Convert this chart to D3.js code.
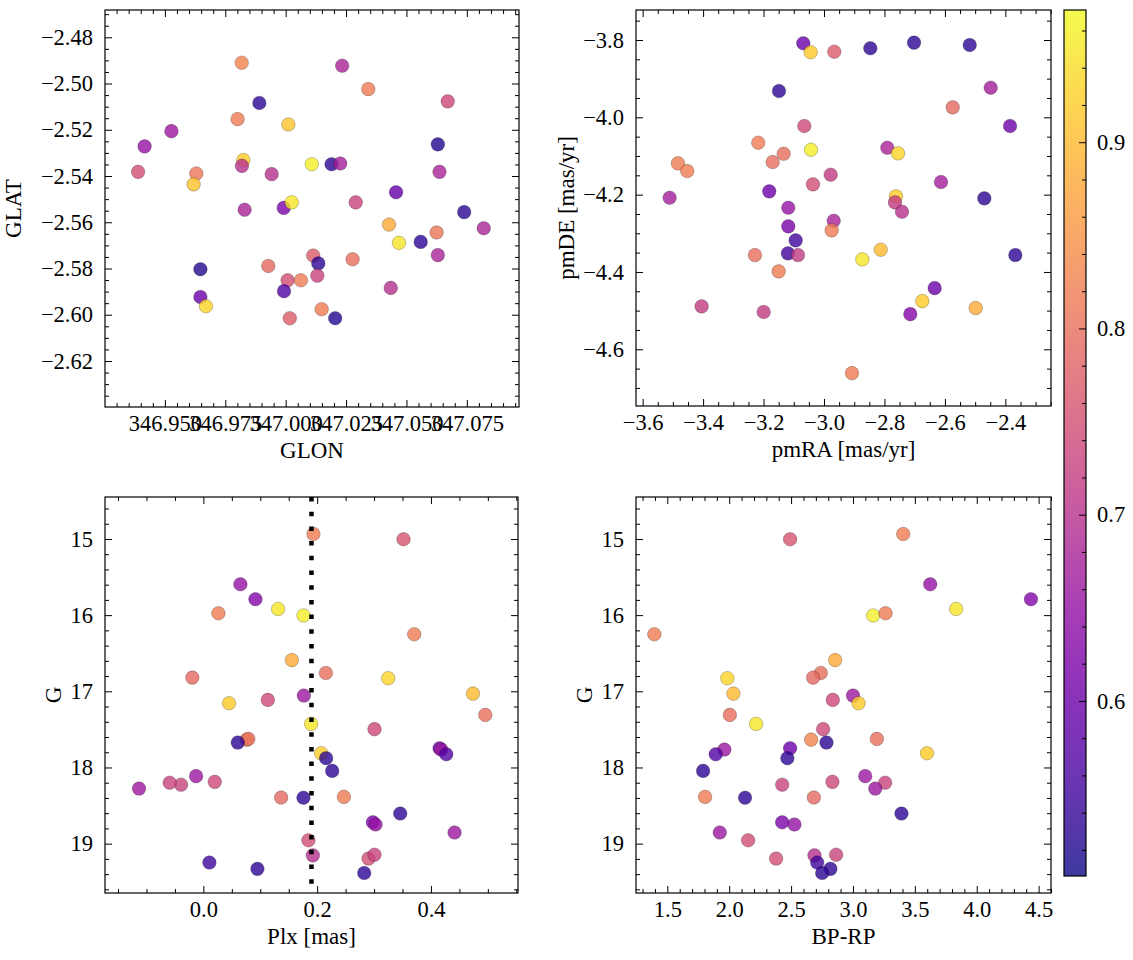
<!DOCTYPE html>
<html><head><meta charset="utf-8">
<script src="https://cdn.jsdelivr.net/npm/d3@7"></script>
<style>
body{margin:0;background:#fff}
</style></head><body>
<svg id="c" width="1133" height="960"></svg>
<script>
// ---------- DATA ----------
// Panel 1: sky position
const glon = [346.9818,347.0234,347.0342,347.0671,346.9891,346.9801,347.0011,346.9527,346.9416,347.0630,
  346.9389,346.9630,346.9619,346.9825,346.9819,346.9942,347.0108,347.0190,347.0226,347.0637,
  347.0457,346.9830,346.9992,347.0025,347.0290,347.0739,347.0428,347.0820,347.0469,347.0559,
  347.0625,347.0630,347.0114,347.0135,347.0277,346.9928,346.9647,347.0008,347.0063,347.0131,
  346.9993,347.0435,346.9647,346.9670,347.0149,347.0017,347.0205];
const glat = [-2.4910,-2.4923,-2.5024,-2.5077,-2.5084,-2.5154,-2.5177,-2.5206,-2.5272,-2.5263,
  -2.5382,-2.5389,-2.5436,-2.5331,-2.5356,-2.5392,-2.5349,-2.5349,-2.5346,-2.5382,
  -2.5470,-2.5546,-2.5538,-2.5514,-2.5514,-2.5556,-2.5610,-2.5626,-2.5689,-2.5685,
  -2.5644,-2.5742,-2.5744,-2.5778,-2.5760,-2.5789,-2.5803,-2.5851,-2.5851,-2.5831,
  -2.5898,-2.5884,-2.5923,-2.5963,-2.5976,-2.6015,-2.6015];
const probPos = [0.83,0.68,0.82,0.74,0.53,0.82,0.91,0.66,0.65,0.52,
  0.75,0.81,0.91,0.92,0.70,0.70,0.96,0.53,0.67,0.68,
  0.59,0.68,0.62,0.95,0.73,0.53,0.88,0.68,0.95,0.53,
  0.81,0.68,0.77,0.53,0.80,0.79,0.52,0.75,0.82,0.73,
  0.57,0.70,0.60,0.93,0.82,0.77,0.52];

// Panel 2: proper motions
const pmra = [-3.0686,-3.0441,-2.9660,-2.8468,-2.7022,-2.5179,-3.1490,-2.4485,-2.5742,-2.3845,
  -3.0652,-3.2175,-3.0431,-3.1334,-3.1698,-3.4832,-3.4524,-2.7906,-2.7552,-2.9779,
  -3.0365,-2.6129,-3.1811,-3.5107,-2.7618,-2.4696,-2.7651,-2.7419,-3.1182,-2.9680,
  -3.1182,-2.9746,-3.0937,-3.1192,-3.0861,-3.2284,-3.1500,-2.8733,-2.8124,-2.3670,
  -2.6338,-2.6748,-2.7145,-2.4981,-3.4048,-3.1996,-2.9074];
const pmde = [-3.8085,-3.8318,-3.8303,-3.8215,-3.8069,-3.8129,-3.9320,-3.9234,-3.9742,-4.0225,
  -4.0225,-4.0657,-4.0838,-4.0942,-4.1157,-4.1190,-4.1390,-4.0787,-4.0932,-4.1485,
  -4.1734,-4.1674,-4.1915,-4.2080,-4.2044,-4.2096,-4.2199,-4.2443,-4.2339,-4.2675,
  -4.2820,-4.2924,-4.3183,-4.3519,-4.3563,-4.3563,-4.3985,-4.3675,-4.3425,-4.3563,
  -4.4417,-4.4753,-4.5090,-4.4934,-4.4890,-4.5037,-4.6616];
const probPM = [0.60,0.92,0.77,0.53,0.53,0.53,0.53,0.67,0.79,0.60,
  0.74,0.82,0.96,0.80,0.80,0.82,0.82,0.68,0.93,0.72,
  0.75,0.67,0.60,0.67,0.92,0.53,0.72,0.70,0.65,0.68,
  0.62,0.82,0.55,0.55,0.72,0.80,0.82,0.95,0.90,0.53,
  0.60,0.92,0.63,0.88,0.72,0.72,0.82];

// Panels 3 & 4: parallax, magnitude, colour
const plx = [0.1935,0.3518,0.0651,0.0915,0.1759,0.0264,0.1314,0.3706,0.1555,0.2153,
  -0.0194,0.3249,0.4739,0.1766,0.0452,0.1133,0.4955,0.1894,0.3008,0.0763,
  0.0790,0.0605,0.2070,0.4152,0.2158,0.4180,0.4269,0.2264,-0.0392,0.0200,
  -0.0128,-0.0592,-0.1131,0.2470,0.1759,0.1367,0.3460,0.2980,0.3026,0.4415,
  0.1847,0.2903,0.1924,0.3008,0.0106,0.0950,0.2827];
const gmag = [14.935,15.004,15.595,15.791,16.004,15.975,15.919,16.251,16.590,16.759,
  16.820,16.828,17.030,17.056,17.156,17.113,17.310,17.428,17.497,17.635,
  17.625,17.673,17.813,17.747,17.878,17.765,17.826,18.045,18.226,18.189,
  18.114,18.200,18.277,18.386,18.397,18.395,18.605,18.720,18.749,18.854,
  18.956,19.196,19.154,19.145,19.248,19.331,19.386];
const bprp = [3.406,2.492,3.624,4.438,3.163,3.263,3.834,1.395,2.856,2.740,
  2.678,1.985,2.034,3.000,3.045,2.837,2.005,2.217,2.759,2.662,
  3.193,2.786,3.598,2.492,2.470,1.961,1.891,1.789,2.428,2.834,
  3.099,3.260,3.180,1.805,2.128,2.684,3.392,2.428,2.527,1.924,
  2.153,2.379,2.689,2.864,2.711,2.818,2.751];
const probPhot = [0.82,0.76,0.65,0.63,0.96,0.82,0.95,0.82,0.88,0.80,
  0.79,0.93,0.90,0.66,0.92,0.74,0.80,0.95,0.74,0.83,
  0.80,0.53,0.92,0.60,0.53,0.66,0.57,0.53,0.73,0.74,
  0.66,0.73,0.66,0.82,0.53,0.79,0.53,0.62,0.65,0.66,
  0.75,0.75,0.70,0.73,0.55,0.53,0.53];
const plxRef = 0.19;

// Tick values
const glonTicks = [346.950,346.975,347.000,347.025,347.050,347.075];
const glatTicks = [-2.48,-2.50,-2.52,-2.54,-2.56,-2.58,-2.60,-2.62];
const pmraTicks = [-3.6,-3.4,-3.2,-3.0,-2.8,-2.6,-2.4];
const pmdeTicks = [-3.8,-4.0,-4.2,-4.4,-4.6];
const plxTicks = [0.0,0.2,0.4];
const gTicks = [15,16,17,18,19];
const bprpTicks = [1.5,2.0,2.5,3.0,3.5,4.0,4.5];
const cbTicks = [0.6,0.7,0.8,0.9];

// ---------- DRAW ----------
const FONT = "'Liberation Serif', 'DejaVu Serif', serif";
const svg = d3.select("#c");
const FS = 22.5, LFS = 23;
const pDom = [0.506, 0.971];
const color = d3.scaleSequential(d3.interpolatePlasma).domain(pDom);

function minorRange(dom, step){
  const lo = Math.min(dom[0],dom[1]), hi = Math.max(dom[0],dom[1]);
  const out = [];
  for(let k=Math.ceil(lo/step - 1e-9); k*step <= hi + 1e-9; k++) out.push(+(k*step).toFixed(6));
  return out;
}
function styleText(sel, fs){ sel.attr("font-size",fs||FS).attr("font-family",FONT).attr("fill","#000"); }

function panel(cfg){
  const {x0,y0,w,h,xd,yd,xt,yt,xstep,ystep,xfmt,yfmt,xs,ys,ps,xlab,ylab,ylabX} = cfg;
  const g = svg.append("g").attr("transform",`translate(${x0},${y0})`);
  const X = d3.scaleLinear().domain(xd).range([0,w]);
  const Y = d3.scaleLinear().domain(yd).range([h,0]);
  const xmin = minorRange(xd,xstep).filter(v=>!xt.some(t=>Math.abs(t-v)<1e-6));
  const ymin = minorRange(yd,ystep).filter(v=>!yt.some(t=>Math.abs(t-v)<1e-6));

  const idx = d3.range(xs.length);
  g.append("g").selectAll("circle").data(idx).join("circle")
    .attr("cx",i=>X(xs[i])).attr("cy",i=>Y(ys[i])).attr("r",6.8)
    .attr("fill",i=>color(ps[i])).attr("fill-opacity",0.8)
    .attr("stroke","#000").attr("stroke-opacity",0.45).attr("stroke-width",0.5);
  if(cfg.vline!==undefined){
    g.append("line").attr("x1",X(cfg.vline)).attr("x2",X(cfg.vline)).attr("y1",0).attr("y2",h)
      .attr("stroke","#000").attr("stroke-width",4.5).attr("stroke-dasharray","4.5,10.2");
  }
  const axes = [
    [d3.axisBottom(X).tickValues(xt).tickSize(-7).tickPadding(8.5).tickFormat(xfmt), `translate(0,${h})`],
    [d3.axisBottom(X).tickValues(xmin).tickSize(-4).tickFormat(""), `translate(0,${h})`],
    [d3.axisTop(X).tickValues(xt).tickSize(-7).tickFormat(""), `translate(0,0)`],
    [d3.axisTop(X).tickValues(xmin).tickSize(-4).tickFormat(""), `translate(0,0)`],
    [d3.axisLeft(Y).tickValues(yt).tickSize(-7).tickPadding(12).tickFormat(yfmt), `translate(0,0)`],
    [d3.axisLeft(Y).tickValues(ymin).tickSize(-4).tickFormat(""), `translate(0,0)`],
    [d3.axisRight(Y).tickValues(yt).tickSize(-7).tickFormat(""), `translate(${w},0)`],
    [d3.axisRight(Y).tickValues(ymin).tickSize(-4).tickFormat(""), `translate(${w},0)`],
  ];
  axes.forEach(([ax,tr])=>{
    const a = g.append("g").attr("transform",tr).call(ax).attr("font-family",FONT);
    a.select(".domain").remove();
    a.selectAll("line").attr("stroke","#000").attr("stroke-width",1);
    a.selectAll("text").call(styleText);
  });
  g.append("rect").attr("width",w).attr("height",h).attr("fill","none")
    .attr("stroke","#000").attr("stroke-width",1.2);
  g.append("text").attr("x",w/2).attr("y",h+51).attr("text-anchor","middle")
    .call(styleText, LFS).text(xlab);
  g.append("text").attr("transform",`translate(${ylabX},${h/2}) rotate(-90)`)
    .attr("text-anchor","middle").call(styleText, LFS).text(ylab);
}

const f2 = d3.format(".2f"), f3 = d3.format(".3f"), f1 = d3.format(".1f"), f0 = d3.format("d");

panel({x0:105,y0:10,w:414,h:397,xd:[346.9252,347.0966],yd:[-2.6399,-2.4682],
  xt:glonTicks,yt:glatTicks,xstep:0.005,ystep:0.005,xfmt:f3,yfmt:f2,
  xs:glon,ys:glat,ps:probPos,xlab:"GLON",ylab:"GLAT",ylabX:-84});
panel({x0:636,y0:10,w:415,h:396,xd:[-3.622,-2.249],yd:[-4.7467,-3.7224],
  xt:pmraTicks,yt:pmdeTicks,xstep:0.05,ystep:0.05,xfmt:f1,yfmt:f1,
  xs:pmra,ys:pmde,ps:probPM,xlab:"pmRA [mas/yr]",ylab:"pmDE [mas/yr]",ylabX:-62});
panel({x0:105,y0:497,w:413,h:396,xd:[-0.1729,0.553],yd:[19.648,14.449],
  xt:plxTicks,yt:gTicks,xstep:0.05,ystep:0.2,xfmt:f1,yfmt:f0,
  xs:plx,ys:gmag,ps:probPhot,xlab:"Plx [mas]",ylab:"G",ylabX:-44,vline:plxRef});
panel({x0:636,y0:497,w:415,h:396,xd:[1.2469,4.6],yd:[19.648,14.449],
  xt:bprpTicks,yt:gTicks,xstep:0.1,ystep:0.2,xfmt:f1,yfmt:f0,
  xs:bprp,ys:gmag,ps:probPhot,xlab:"BP-RP",ylab:"G",ylabX:-44});

// colorbar
const cbX=1064, cbY=10, cbW=22, cbH=866;
const defs = svg.append("defs");
const grad = defs.append("linearGradient").attr("id","pl").attr("x1",0).attr("y1",1).attr("x2",0).attr("y2",0);
d3.range(0,1.0001,0.05).forEach(t=>grad.append("stop").attr("offset",t).attr("stop-color",d3.interpolatePlasma(t)));
svg.append("rect").attr("x",cbX).attr("y",cbY).attr("width",cbW).attr("height",cbH)
  .attr("fill","url(#pl)").attr("fill-opacity",0.8);
const CB = d3.scaleLinear().domain(pDom).range([cbY+cbH,cbY]);
const cbMin = minorRange(pDom,0.02).filter(v=>!cbTicks.some(t=>Math.abs(t-v)<1e-6));
[d3.axisRight(CB).tickValues(cbTicks).tickSize(-7).tickPadding(11).tickFormat(f1),
 d3.axisRight(CB).tickValues(cbMin).tickSize(-4).tickFormat("")].forEach(ax=>{
  const a = svg.append("g").attr("transform",`translate(${cbX+cbW},0)`).call(ax).attr("font-family",FONT);
  a.select(".domain").remove();
  a.selectAll("line").attr("stroke","#000").attr("stroke-width",1);
  a.selectAll("text").call(styleText);
});
svg.append("rect").attr("x",cbX).attr("y",cbY).attr("width",cbW).attr("height",cbH)
  .attr("fill","none").attr("stroke","#000").attr("stroke-width",1.2);
</script>
</body></html>
